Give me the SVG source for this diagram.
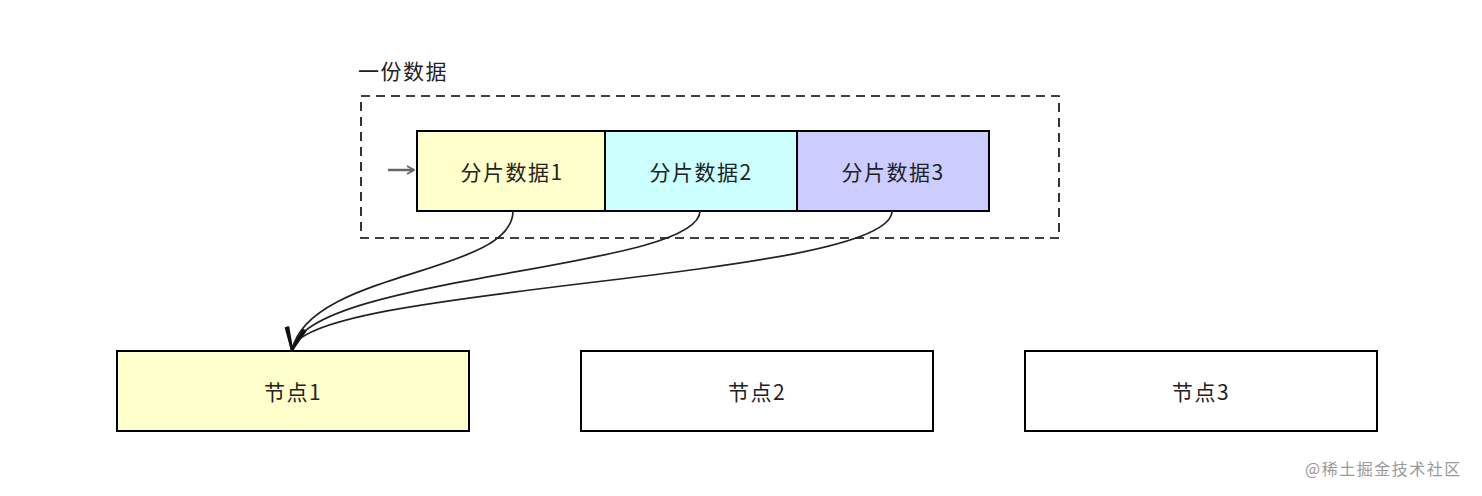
<svg xmlns="http://www.w3.org/2000/svg" width="1482" height="496" viewBox="0 0 1482 496">
<style>
text{font-family:"Noto Sans CJK SC","Liberation Sans",sans-serif;fill:#222;}
.lbl{font-size:21px;letter-spacing:1.5px;text-anchor:middle;dominant-baseline:central;}
.box{stroke:#000;stroke-width:2;}
.edge{fill:none;stroke:#222;stroke-width:1.7;}
</style>
<defs>
<marker id="vee" viewBox="0 0 26 26" refX="24" refY="13" markerWidth="26" markerHeight="26" markerUnits="userSpaceOnUse" orient="auto">
<path d="M2,4 L24,13 L2,22" fill="none" stroke="#111" stroke-width="2.4"/>
</marker>
<marker id="small" viewBox="0 0 10 10" refX="9" refY="5" markerWidth="10" markerHeight="10" markerUnits="userSpaceOnUse" orient="auto">
<path d="M2,1 L9,5 L2,9" fill="none" stroke="#666" stroke-width="1.8"/>
</marker>
</defs>
<rect width="1482" height="496" fill="#fff"/>
<g id="group">
<text x="358" y="70" style="font-size:21px;letter-spacing:1.5px;dominant-baseline:central;">一份数据</text>
<rect x="361" y="96" width="698" height="142" fill="none" stroke="#000" stroke-width="1.6" stroke-dasharray="9,6"/>
</g>
<g id="shard1"><rect class="box" x="417" y="131" width="188" height="80" fill="#FFFFCC"/><text class="lbl" x="512" y="171">分片数据1</text></g>
<g id="shard2"><rect class="box" x="605" y="131" width="192" height="80" fill="#CCFFFF"/><text class="lbl" x="701" y="171">分片数据2</text></g>
<g id="shard3"><rect class="box" x="797" y="131" width="192" height="80" fill="#CCCCFF"/><text class="lbl" x="893" y="171">分片数据3</text></g>
<g id="node1"><rect class="box" x="117" y="351" width="352" height="80" fill="#FFFFCC"/><text class="lbl" x="293" y="391">节点1</text></g>
<g id="node2"><rect class="box" x="581" y="351" width="352" height="80" fill="#fff"/><text class="lbl" x="757" y="391">节点2</text></g>
<g id="node3"><rect class="box" x="1025" y="351" width="352" height="80" fill="#fff"/><text class="lbl" x="1201" y="391">节点3</text></g>
<g id="connectors">
<line x1="388" y1="170" x2="414" y2="170" stroke="#666" stroke-width="2.5" marker-end="url(#small)"/>
<path class="edge" d="M513,211 C513,275 310,270 292,350" marker-end="url(#vee)"/>
<path class="edge" d="M700,211 C700,270 305,275 292,350" marker-end="url(#vee)"/>
<path class="edge" d="M892,211 C892,280 300,285 292,350" marker-end="url(#vee)"/>
</g>
<text x="1305" y="468" style="font-size:16px;fill:#999;letter-spacing:1.5px;dominant-baseline:central;">@稀土掘金技术社区</text>
</svg>
